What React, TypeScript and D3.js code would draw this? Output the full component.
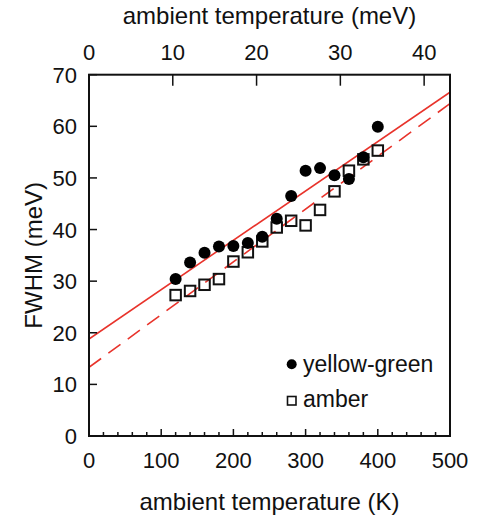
import React from "react";
import * as d3 from "d3";

const temps = [120, 140, 160, 180, 200, 220, 240, 260, 280, 300, 320, 340, 360, 380, 400];
const yellowGreen = [30.4, 33.6, 35.5, 36.7, 36.8, 37.4, 38.6, 42.1, 46.5, 51.4, 51.9, 50.5, 49.8, 54.0, 59.9];
const amber = [27.3, 28.1, 29.3, 30.4, 33.8, 35.6, 37.7, 40.4, 41.7, 40.8, 43.8, 47.4, 51.4, 53.6, 55.3];
const fitYellowGreen = { intercept: 18.8, slope: 0.0956 };
const fitAmber = { intercept: 13.3, slope: 0.1022 };
const xTicksK = [0, 100, 200, 300, 400, 500];
const xMinorK = d3.range(0, 501, 20);
const yTicks = [0, 10, 20, 30, 40, 50, 60, 70];
const topTicksMeV = [0, 10, 20, 30, 40];
const kB = 11.6045; // K per meV

const W = 478, H = 520;
const L = 89, R = 450, T = 74.7, B = 436;
const FONT = "Liberation Sans, Arial, Helvetica, sans-serif";
const RED = "#e8332b";

export default function App() {
  const x = d3.scaleLinear().domain([0, 500]).range([L, R]);
  const xTop = d3.scaleLinear().domain([0, 500 / kB]).range([L, R]);
  const y = d3.scaleLinear().domain([0, 70]).range([B, T]);
  const fitPath = (f: { intercept: number; slope: number }) =>
    d3.line<number>().x((t) => x(t)).y((t) => y(f.intercept + f.slope * t))([0, 500]) || "";
  const sq = 10.5;
  return (
    <svg width={W} height={H} style={{ position: "absolute", left: 0, top: 0, background: "#fff" }} fontFamily={FONT}>
      <rect x={0} y={0} width={W} height={H} fill="#fff" />
      <defs>
        <clipPath id="plot">
          <rect x={L} y={T} width={R - L} height={B - T} />
        </clipPath>
      </defs>
      {/* fit lines */}
      <g clipPath="url(#plot)">
        <path d={fitPath(fitYellowGreen)} stroke={RED} strokeWidth={1.6} fill="none" />
        <path d={fitPath(fitAmber)} stroke={RED} strokeWidth={1.6} fill="none" strokeDasharray="15,9" />
      </g>
      {/* amber squares */}
      {temps.map((t, i) => (
        <rect key={"a" + i} x={x(t) - sq / 2} y={y(amber[i]) - sq / 2} width={sq} height={sq}
          fill="#fff" fillOpacity={0} stroke="#111" strokeWidth={2} />
      ))}
      {/* yellow-green circles */}
      {temps.map((t, i) => (
        <circle key={"y" + i} cx={x(t)} cy={y(yellowGreen[i])} r={6} fill="#000" />
      ))}
      {/* frame */}
      <rect x={L} y={T} width={R - L} height={B - T} fill="none" stroke="#111" strokeWidth={2} />
      {/* bottom minor/major ticks */}
      {xMinorK.map((t) => (
        <line key={"m" + t} x1={x(t)} x2={x(t)} y1={B} y2={B - (t % 100 === 0 ? 7 : 4)} stroke="#111" strokeWidth={1.5} />
      ))}
      {xTicksK.map((t) => (
        <text key={"xl" + t} x={x(t)} y={468} textAnchor="middle" fontSize={22} fill="#111">{t}</text>
      ))}
      {/* left ticks */}
      {yTicks.map((v) => (
        <g key={"yt" + v}>
          <line x1={L} x2={L + 8} y1={y(v)} y2={y(v)} stroke="#111" strokeWidth={1.5} />
          <text x={77} y={y(v) + 8} textAnchor="end" fontSize={22} fill="#111">{v}</text>
        </g>
      ))}
      {/* top ticks */}
      {topTicksMeV.map((v) => (
        <g key={"tt" + v}>
          <line x1={xTop(v)} x2={xTop(v)} y1={T} y2={T + 11} stroke="#111" strokeWidth={1.5} />
          <text x={xTop(v)} y={60} textAnchor="middle" fontSize={22} fill="#111">{v}</text>
        </g>
      ))}
      {/* titles */}
      <text x={(L + R) / 2} y={24} textAnchor="middle" fontSize={24} fill="#111">ambient temperature (meV)</text>
      <text x={(L + R) / 2} y={510} textAnchor="middle" fontSize={24} fill="#111">ambient temperature (K)</text>
      <text transform={`translate(42,${(T + B) / 2}) rotate(-90)`} textAnchor="middle" fontSize={24} fill="#111">FWHM (meV)</text>
      {/* legend */}
      <circle cx={291.7} cy={364.3} r={5} fill="#000" />
      <text x={303} y={372} fontSize={23} fill="#111">yellow-green</text>
      <rect x={287.5} y={396.5} width={8.5} height={8.5} fill="none" stroke="#111" strokeWidth={1.6} />
      <text x={303} y={407} fontSize={23} fill="#111">amber</text>
    </svg>
  );
}
